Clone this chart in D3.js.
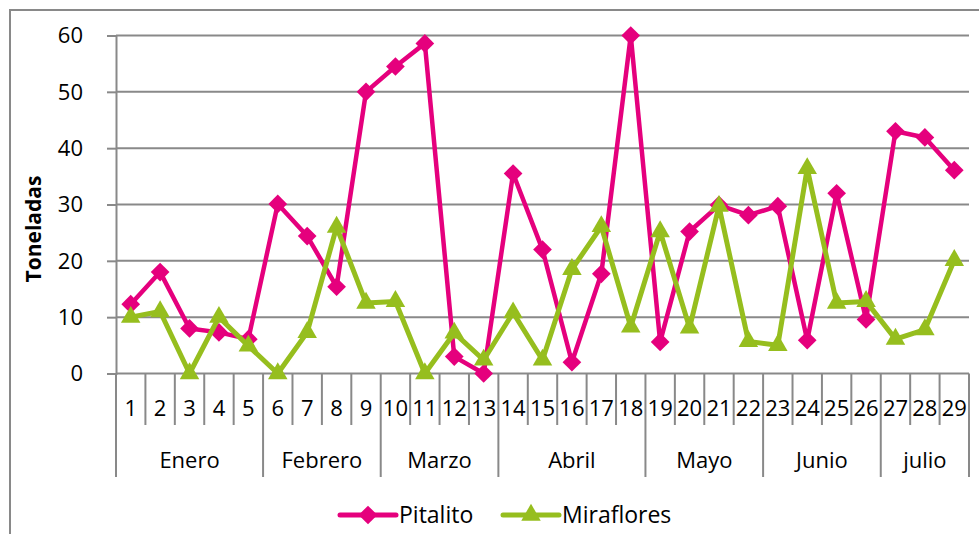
<!DOCTYPE html>
<html><head><meta charset="utf-8">
<script src="https://cdn.jsdelivr.net/npm/d3@7"></script>
<style>
html,body{margin:0;padding:0;background:#fff;overflow:hidden}
text{font-family:"Open Sans",sans-serif;fill:#000}
</style></head>
<body><svg id="c" width="979" height="534"></svg>
<script>
const days = d3.range(1,30).map(String);
const months = ["Enero","Febrero","Marzo","Abril","Mayo","Junio","julio"];
const monthSpans = [5,4,4,5,4,4,3];
const yTicks = [0,10,20,30,40,50,60];
const pitalito = [12.3,18,8,7.3,6.1,30.1,24.4,15.4,50,54.5,58.6,3,0,35.5,22,2,17.7,60,5.6,25.2,29.9,28.1,29.7,5.9,32,9.6,43,41.9,36.1];
const miraflores = [10,11,0,10,4.9,0,7.3,26,12.5,12.8,0,7.2,2.4,10.8,2.4,18.5,26.1,8.3,25.2,8.1,29.7,5.7,5,36.4,12.5,12.8,6.1,7.8,20.1];
const seriesNames = ["Pitalito","Miraflores"];
const colors = ["#E5007D","#96BE1E"];

const svg = d3.select("#c");
const L=116, R=969, T=35.5, B=373.5;
const x = d3.scaleBand().domain(days).range([L,R]).padding(0);
const y = d3.scaleLinear().domain([0,60]).range([B,T]);
const grid = "#898989";

// frame
svg.append("path").attr("d",`M10,534 V10 H979`).attr("fill","none").attr("stroke",grid).attr("stroke-width",2);

// gridlines
svg.append("g").selectAll("line").data(yTicks).join("line")
  .attr("x1",L).attr("x2",R).attr("y1",d=>y(d)).attr("y2",d=>y(d))
  .attr("stroke",grid).attr("stroke-width",2);

// y axis
const ya = svg.append("g").attr("transform",`translate(${L},0)`)
  .call(d3.axisLeft(y).tickValues(yTicks).tickSize(9).tickPadding(24));
ya.select(".domain").attr("stroke",grid).attr("stroke-width",2);
ya.selectAll(".tick line").attr("stroke",grid).attr("stroke-width",2);
ya.selectAll(".tick text").attr("font-size",22).attr("font-family","Open Sans").attr("fill","#000").attr("dy","0.34em");

// y label
svg.append("text").attr("transform",`translate(41,229) rotate(-90)`)
  .attr("text-anchor","middle").attr("font-size",21).attr("font-weight","bold").text("Toneladas");

// x axis: category ticks
const bounds = d3.range(0,30);
let monthBounds = [0]; let acc=0; monthSpans.forEach(s=>{acc+=s; monthBounds.push(acc);});
const bw = x.bandwidth();
svg.append("g").selectAll("line").data(bounds).join("line")
  .attr("x1",i=>L+i*bw).attr("x2",i=>L+i*bw)
  .attr("y1",B).attr("y2",i=>monthBounds.includes(i)?477:425)
  .attr("stroke",grid).attr("stroke-width",2);
svg.append("g").selectAll("text").data(days).join("text")
  .attr("x",d=>x(d)+bw/2).attr("y",408).attr("dy","0.36em")
  .attr("text-anchor","middle").attr("font-size",22).text(d=>d);
svg.append("g").selectAll("text").data(months).join("text")
  .attr("x",(d,i)=>L+(monthBounds[i]+monthBounds[i+1])/2*bw).attr("y",460).attr("dy","0.36em")
  .attr("text-anchor","middle").attr("font-size",22).text(d=>d);

// lines & markers
const line = d3.line().x((d,i)=>x(days[i])+bw/2).y(d=>y(d));
const diamond = d3.symbol().type(d3.symbolSquare).size(175);
const tri = d3.symbol().type(d3.symbolTriangle).size(165);
function draw(vals,color,sym,rot,w){
  svg.append("path").datum(vals).attr("d",line).attr("fill","none")
    .attr("stroke",color).attr("stroke-width",w).attr("stroke-linejoin","round");
  svg.append("g").selectAll("path").data(vals).join("path")
    .attr("d",sym).attr("fill",color)
    .attr("transform",(d,i)=>`translate(${x(days[i])+bw/2},${y(d)}) rotate(${rot})`);
}
draw(pitalito,colors[0],diamond,45,4.5);
draw(miraflores,colors[1],tri,0,5);

// legend
const leg = [{n:seriesNames[0],c:colors[0],s:diamond,r:45,x0:340},{n:seriesNames[1],c:colors[1],s:tri,r:0,x0:503}];
const lg = svg.append("g");
leg.forEach(l=>{
  lg.append("line").attr("x1",l.x0).attr("x2",l.x0+56).attr("y1",515).attr("y2",515)
    .attr("stroke",l.c).attr("stroke-width",5).attr("stroke-linecap","round");
  lg.append("path").attr("d",l.s).attr("fill",l.c).attr("transform",`translate(${l.x0+28},515) rotate(${l.r})`);
  lg.append("text").attr("x",l.x0+59).attr("y",515).attr("dy","0.36em").attr("font-size",23).text(l.n);
});
</script></body></html>
